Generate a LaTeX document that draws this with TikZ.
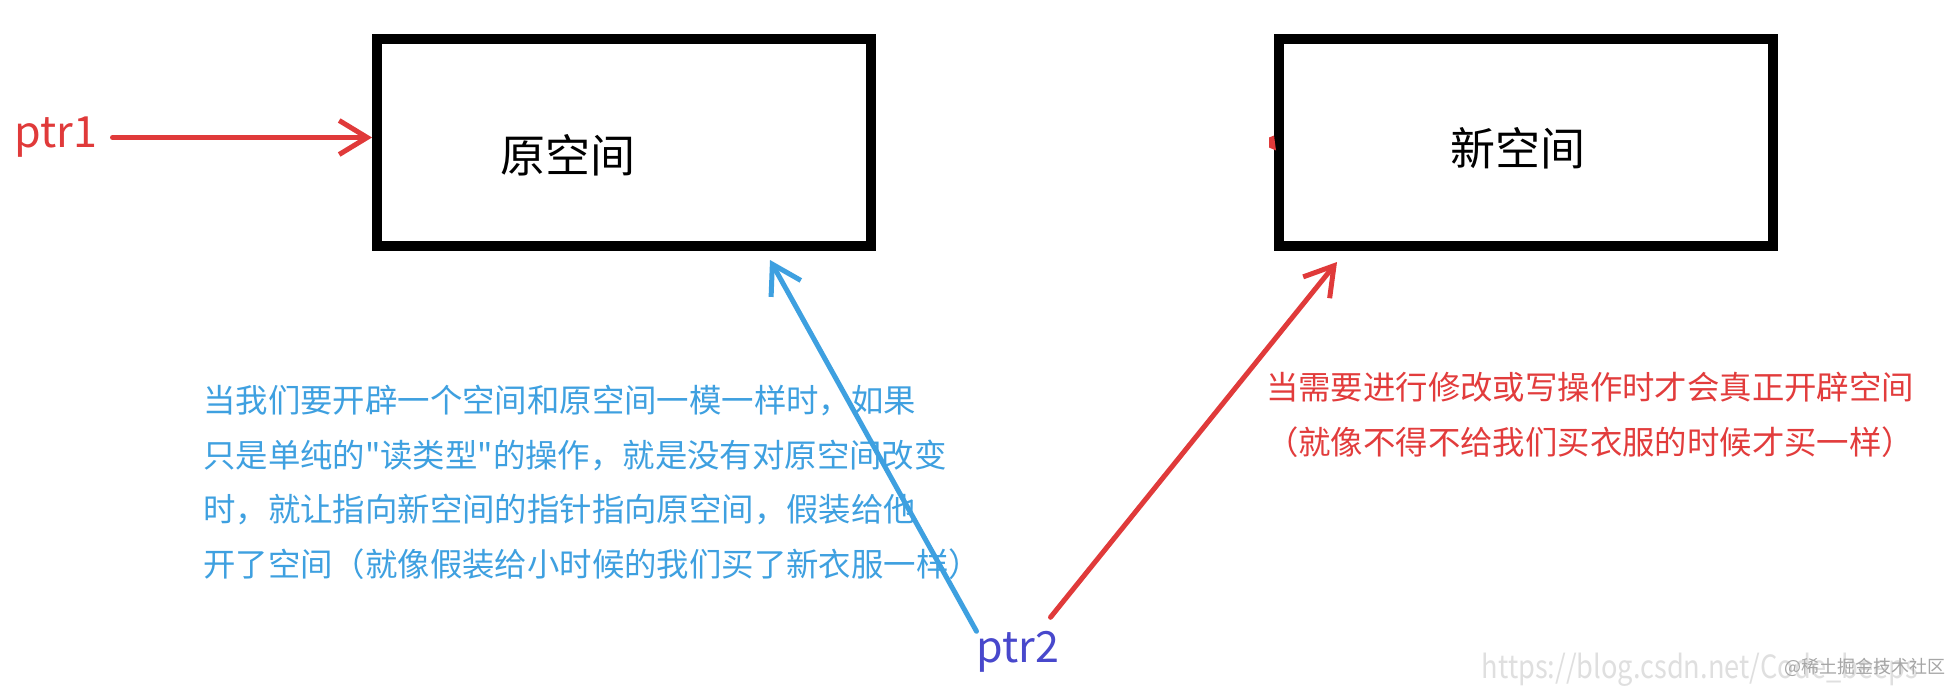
\documentclass[tikz,border=0pt]{standalone}
\usepackage{fontspec}
\newfontfamily\cjkfont{Noto Sans CJK SC}
\usepackage{graphicx}
\usetikzlibrary{arrows.meta, positioning}

\definecolor{ptrred}{RGB}{224,58,58}
\definecolor{ptrblue}{RGB}{72,72,204}
\definecolor{noteblue}{RGB}{62,160,224}
\definecolor{notered}{RGB}{226,60,60}

\newcommand{\boxfont}{\cjkfont\fontsize{45}{54}\selectfont}
\newcommand{\ptrfont}{\cjkfont\fontsize{43}{50}\selectfont}
\newcommand{\notefont}{\cjkfont\fontsize{32.4}{54.5}\selectfont}

\begin{document}
\begin{tikzpicture}[
    x=1pt, y=-1pt,
    spacebox/.style={rectangle, draw, line width=10pt, minimum width=494pt, minimum height=206pt},
    boxtext/.style={font=\boxfont, inner sep=0pt},
    ptrtext/.style={font=\ptrfont, inner sep=0pt},
    notetext/.style={font=\notefont, inner sep=0pt},
    pointer/.style={-{Straight Barb[length=28pt, width=34pt]}, line width=5pt, line cap=round, line join=round},
    wmark/.style={inner sep=0pt, text=gray!25, font=\cjkfont\fontsize{32}{36}\selectfont}
]
\path[use as bounding box, fill=white] (0,0) rectangle (1950,685);

% the two spaces
\node[spacebox] (oldbox) at (624,142.5) {};
\node[spacebox, right=398pt of oldbox] (newbox) {};
\node[boxtext] (oldtext) at (568,155) {原空间};
\node[boxtext] (newtext) at (1518,148) {新空间};
\fill[ptrred] ([yshift=7pt]newbox.west) -- ++(-5,2) -- ++(0,10) -- ++(7,3) -- cycle;

% pointers
\node[ptrtext, text=ptrred] (ptrone) at (56,137.5) {ptr1};
\node[ptrtext, text=ptrblue] (ptrtwo) at (1018,652) {ptr2};
\coordinate (oldtip) at (770,260);
\coordinate (newtip) at (1337,262);

\draw[pointer, ptrred, shorten <=15pt] (ptrone.east) -- (ptrone.east -| oldbox.west);
\draw[pointer, noteblue] (ptrtwo.north west) -- (oldtip);
\draw[pointer, ptrred] ([shift={(-9,-14)}]ptrtwo.north east) -- (newtip);

% notes
\node[notetext, text=noteblue, align=left, anchor=north west] (oldnote) at (203,385)
    {当我们要开辟一个空间和原空间一模一样时，如果\\
     只是单纯的"读类型"的操作，就是没有对原空间改变\\
     时，就让指向新空间的指针指向原空间，假装给他\\
     开了空间（就像假装给小时候的我们买了新衣服一样）};
\node[notetext, text=notered, align=center, anchor=north] (newnote) at (1590,372)
    {当需要进行修改或写操作时才会真正开辟空间\\
     （就像不得不给我们买衣服的时候才买一样）};

% watermark
\node[wmark, anchor=east] (url) at (1918,670) {\scalebox{0.85}[1]{https://blog.csdn.net/Code\_beeps}};
\node[inner sep=0pt, text=gray!70, font=\cjkfont\fontsize{18}{20}\selectfont, anchor=east] (brand) at (1946,667) {@稀土掘金技术社区};
\end{tikzpicture}
\end{document}
